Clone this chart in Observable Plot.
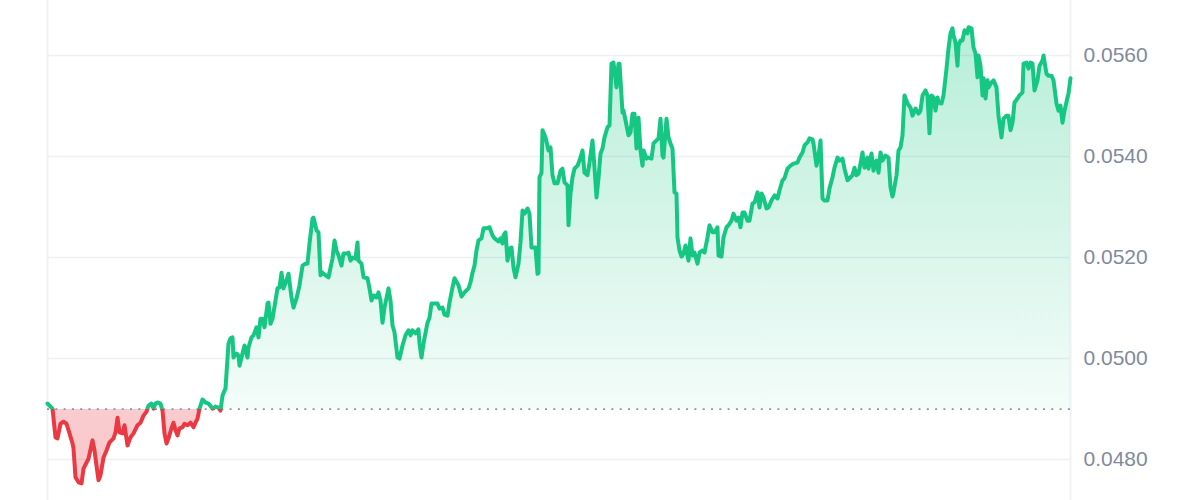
<!DOCTYPE html>
<html><head><meta charset="utf-8">
<script src="https://cdn.jsdelivr.net/npm/d3@7"></script>
<script src="https://cdn.jsdelivr.net/npm/@observablehq/plot@0.6"></script>
<style>body{margin:0;background:#fff}#chart svg{display:block}</style>
</head><body><div id="chart"></div>
<script>
// Sample positions along the 24h window (1023 steps) and prices
const steps = [0,5,8,10,13,16,19,22,25,26,28,31,34,36,39,41,45,47,49,51,53,56,59,62,66,68,70,72,75,77,80,83,86,90,93,96,99,101,104,106,108,110,113,115,117,119,121,124,126,128,130,132,135,137,140,143,146,148,150,152,155,158,161,165,168,171,173,175,178,181,183,185,186,189,191,192,195,197,200,201,204,206,209,211,213,215,217,220,221,223,225,228,230,232,234,236,239,241,244,246,249,252,255,258,260,262,265,266,269,271,273,275,278,281,285,287,289,291,294,296,300,301,303,305,308,310,311,314,316,320,322,324,326,329,331,333,335,337,341,343,345,347,350,352,355,358,361,363,365,368,371,372,374,376,380,382,384,387,390,392,395,397,400,402,405,407,411,414,417,421,423,425,427,429,431,434,436,439,442,445,447,451,453,455,456,458,460,462,464,466,468,471,473,475,477,480,482,484,486,488,490,491,492,494,495,498,501,503,505,507,510,513,515,517,520,521,523,525,527,530,532,535,537,540,542,545,547,549,551,553,555,557,560,562,564,566,569,571,572,575,576,579,581,583,585,587,589,591,593,595,596,599,601,604,606,609,611,613,615,616,619,621,623,625,627,629,630,632,634,636,638,641,643,645,647,650,652,655,657,660,662,665,667,670,671,674,676,679,681,684,686,689,691,693,695,697,700,702,705,707,710,712,714,716,719,721,724,727,730,732,735,737,740,743,746,750,752,755,757,760,762,765,766,769,771,773,775,777,780,782,785,787,790,792,795,797,800,802,805,807,809,811,813,815,817,820,821,824,826,829,831,833,835,838,841,843,845,846,849,851,853,855,857,860,863,865,868,871,873,875,878,880,882,884,886,888,890,891,894,896,899,901,903,905,906,908,910,911,913,915,917,920,921,924,926,928,930,931,933,935,936,938,940,941,944,946,949,951,954,956,959,961,963,965,967,970,972,975,976,979,981,983,985,987,990,992,995,996,999,1001,1004,1006,1009,1011,1013,1015,1017,1020,1021,1023];
const prices = [0.04911,0.04901,0.04844,0.04842,0.04871,0.04875,0.04871,0.04852,0.04832,0.04822,0.04765,0.04755,0.04753,0.04782,0.04794,0.04802,0.04838,0.04818,0.04788,0.04759,0.04769,0.04804,0.04818,0.04834,0.04842,0.04854,0.04883,0.04854,0.04852,0.04868,0.04828,0.04844,0.04852,0.04868,0.04873,0.04887,0.04895,0.04907,0.04911,0.04901,0.04911,0.04913,0.04911,0.04897,0.04852,0.04832,0.04842,0.04862,0.04873,0.04858,0.04848,0.04862,0.04864,0.04871,0.04868,0.04873,0.04864,0.04873,0.04881,0.04901,0.04919,0.04913,0.04911,0.04901,0.04905,0.04903,0.04897,0.04927,0.04941,0.05030,0.05040,0.05042,0.05002,0.05010,0.05006,0.04986,0.05010,0.05026,0.05002,0.05022,0.05042,0.05046,0.05062,0.05042,0.05079,0.05079,0.05062,0.05109,0.05111,0.05069,0.05079,0.05115,0.05139,0.05141,0.05170,0.05139,0.05155,0.05168,0.05121,0.05101,0.05119,0.05145,0.05184,0.05188,0.05188,0.05228,0.05277,0.05279,0.05254,0.05250,0.05165,0.05170,0.05165,0.05161,0.05198,0.05234,0.05214,0.05204,0.05184,0.05208,0.05208,0.05210,0.05194,0.05200,0.05198,0.05230,0.05194,0.05188,0.05161,0.05159,0.05139,0.05115,0.05125,0.05121,0.05131,0.05115,0.05071,0.05101,0.05139,0.05115,0.05066,0.05052,0.05002,0.05000,0.05026,0.05046,0.05056,0.05046,0.05056,0.05050,0.05058,0.05030,0.05002,0.05030,0.05071,0.05081,0.05109,0.05109,0.05109,0.05099,0.05101,0.05087,0.05085,0.05111,0.05141,0.05159,0.05145,0.05123,0.05131,0.05139,0.05151,0.05170,0.05184,0.05214,0.05234,0.05238,0.05258,0.05258,0.05260,0.05244,0.05238,0.05232,0.05238,0.05228,0.05244,0.05250,0.05194,0.05218,0.05220,0.05180,0.05161,0.05188,0.05230,0.05293,0.05287,0.05297,0.05287,0.05220,0.05220,0.05220,0.05168,0.05170,0.05359,0.05368,0.05452,0.05438,0.05412,0.05418,0.05363,0.05347,0.05347,0.05372,0.05376,0.05349,0.05343,0.05264,0.05327,0.05359,0.05376,0.05382,0.05392,0.05412,0.05368,0.05363,0.05388,0.05432,0.05378,0.05319,0.05357,0.05406,0.05416,0.05438,0.05458,0.05462,0.05584,0.05586,0.05537,0.05584,0.05584,0.05487,0.05491,0.05462,0.05442,0.05448,0.05485,0.05485,0.05416,0.05477,0.05412,0.05382,0.05412,0.05396,0.05398,0.05396,0.05426,0.05432,0.05436,0.05475,0.05402,0.05398,0.05475,0.05438,0.05426,0.05416,0.05329,0.05327,0.05240,0.05214,0.05202,0.05208,0.05224,0.05194,0.05238,0.05204,0.05210,0.05188,0.05210,0.05214,0.05210,0.05240,0.05264,0.05250,0.05250,0.05260,0.05204,0.05202,0.05240,0.05260,0.05264,0.05273,0.05287,0.05273,0.05279,0.05260,0.05289,0.05289,0.05273,0.05273,0.05307,0.05309,0.05329,0.05299,0.05327,0.05319,0.05297,0.05299,0.05313,0.05323,0.05317,0.05333,0.05353,0.05357,0.05376,0.05382,0.05386,0.05388,0.05398,0.05408,0.05422,0.05428,0.05436,0.05434,0.05426,0.05382,0.05402,0.05432,0.05317,0.05313,0.05313,0.05337,0.05359,0.05378,0.05398,0.05392,0.05396,0.05376,0.05353,0.05357,0.05363,0.05378,0.05363,0.05366,0.05386,0.05408,0.05378,0.05398,0.05376,0.05406,0.05372,0.05392,0.05368,0.05408,0.05392,0.05402,0.05398,0.05339,0.05321,0.05329,0.05363,0.05412,0.05418,0.05442,0.05521,0.05505,0.05497,0.05481,0.05495,0.05485,0.05491,0.05521,0.05531,0.05521,0.05446,0.05521,0.05517,0.05491,0.05517,0.05507,0.05505,0.05521,0.05574,0.05614,0.05644,0.05654,0.05640,0.05626,0.05580,0.05620,0.05630,0.05630,0.05650,0.05644,0.05656,0.05654,0.05616,0.05604,0.05557,0.05600,0.05580,0.05521,0.05555,0.05515,0.05551,0.05537,0.05547,0.05551,0.05537,0.05481,0.05438,0.05475,0.05481,0.05481,0.05452,0.05467,0.05507,0.05515,0.05521,0.05527,0.05584,0.05586,0.05574,0.05586,0.05584,0.05531,0.05551,0.05580,0.05590,0.05600,0.05564,0.05560,0.05560,0.05551,0.05505,0.05491,0.05501,0.05467,0.05491,0.05517,0.05525,0.05555];
const baseline = 0.0490;
const yTicks = [0.0480, 0.0500, 0.0520, 0.0540, 0.0560];
const yDomain = [0.04719, 0.05709];

const GREEN = "#16c784", RED = "#ea3943";
const data = steps.map((t, i) => ({t, price: prices[i]}));

// gradient definitions, split at the baseline through the y scale
const defs = (index, scales, values, dims) => {
  const H = dims.height;
  const off = scales.y(baseline) / H;
  const top = scales.y(d3.max(prices)) / H;
  const g = d3.create("svg:g");
  const d = g.append("defs");
  const lg = d.append("linearGradient").attr("id", "lineGrad")
    .attr("gradientUnits", "userSpaceOnUse").attr("x1", 0).attr("x2", 0).attr("y1", 0).attr("y2", H);
  lg.append("stop").attr("offset", 0).attr("stop-color", GREEN);
  lg.append("stop").attr("offset", off).attr("stop-color", GREEN);
  lg.append("stop").attr("offset", off).attr("stop-color", RED);
  lg.append("stop").attr("offset", 1).attr("stop-color", RED);
  const ag = d.append("linearGradient").attr("id", "areaGrad")
    .attr("gradientUnits", "userSpaceOnUse").attr("x1", 0).attr("x2", 0).attr("y1", 0).attr("y2", H);
  ag.append("stop").attr("offset", 0).attr("stop-color", GREEN).attr("stop-opacity", 0.33);
  ag.append("stop").attr("offset", top).attr("stop-color", GREEN).attr("stop-opacity", 0.31);
  ag.append("stop").attr("offset", off).attr("stop-color", GREEN).attr("stop-opacity", 0.05);
  ag.append("stop").attr("offset", off).attr("stop-color", RED).attr("stop-opacity", 0.26);
  ag.append("stop").attr("offset", 1).attr("stop-color", RED).attr("stop-opacity", 0.28);
  return g.node();
};

const chart = Plot.plot({
  width: 1200,
  height: 500,
  marginLeft: 47,
  marginRight: 130,
  marginTop: 0,
  marginBottom: 0,
  style: {fontFamily: "'Liberation Sans', Arial, sans-serif", background: "#fff"},
  x: {domain: d3.extent(steps), axis: null},
  y: {domain: yDomain, axis: null},
  marks: [
    defs,
    Plot.gridY(yTicks, {stroke: "#edf0f4", strokeOpacity: 1, strokeWidth: 1.5}),
    Plot.ruleX(d3.extent(steps), {stroke: "#eff2f5", strokeWidth: 2}),
    Plot.areaY(data, {x: "t", y1: baseline, y2: "price", fill: "url(#areaGrad)"}),
    Plot.ruleY([baseline], {stroke: "#8f949b", strokeWidth: 1.6, strokeDasharray: "2,6.3"}),
    Plot.line(data, {x: "t", y: "price", stroke: "url(#lineGrad)", strokeWidth: 4, strokeLinejoin: "round", strokeLinecap: "round"}),
    Plot.axisY(yTicks, {anchor: "right", tickSize: 0, tickPadding: 13, tickFormat: d3.format(".4f"), color: "#808a9d", fontSize: 21, label: null})
  ]
});
document.getElementById("chart").append(chart);
</script>
</body></html>
